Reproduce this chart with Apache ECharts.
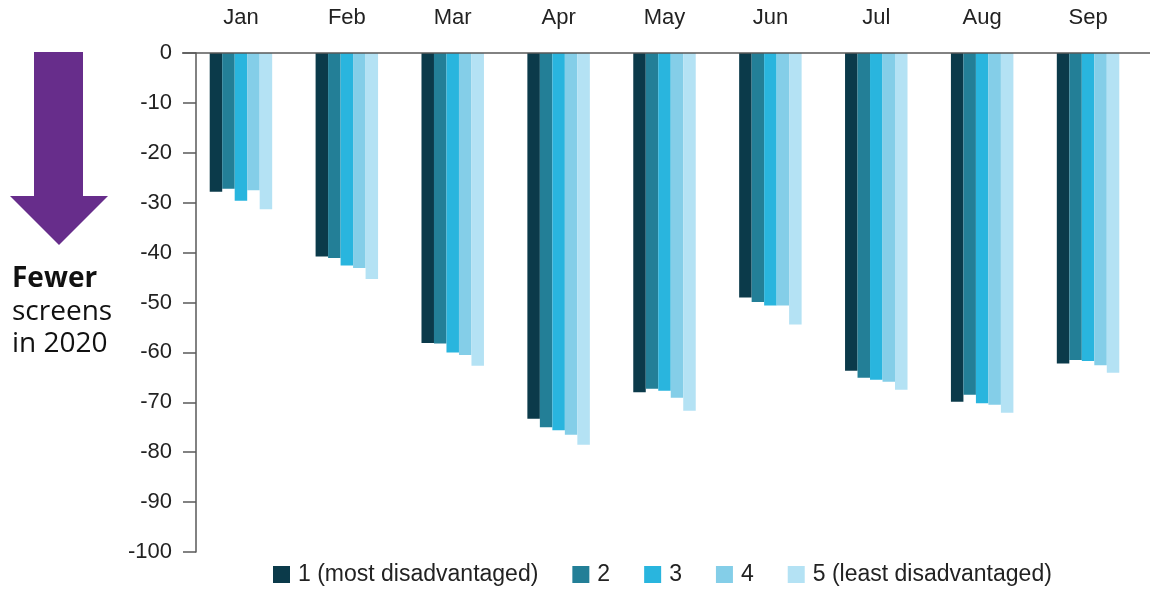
<!DOCTYPE html>
<html><head><meta charset="utf-8">
<script src="https://cdn.jsdelivr.net/npm/echarts@6/dist/echarts.min.js"></script>
<style>html,body{margin:0;padding:0;background:#fff}#c{width:1157px;height:592px}</style>
</head><body><div id="c"></div>
<script>
var categories = ['Jan','Feb','Mar','Apr','May','Jun','Jul','Aug','Sep'];
var seriesNames = ['1 (most disadvantaged)','2','3','4','5 (least disadvantaged)'];
var q1 = [-27.8,-40.8,-58.1,-73.3,-68.0,-49.0,-63.7,-69.9,-62.2];
var q2 = [-27.2,-41.1,-58.2,-75.0,-67.3,-49.9,-65.1,-68.5,-61.5];
var q3 = [-29.6,-42.6,-60.0,-75.6,-67.7,-50.6,-65.5,-70.2,-61.7];
var q4 = [-27.5,-43.1,-60.5,-76.5,-69.1,-50.6,-65.9,-70.5,-62.6];
var q5 = [-31.3,-45.3,-62.7,-78.5,-71.7,-54.4,-67.5,-72.1,-64.1];
var yTicks = {min:-100, max:0, interval:10};
var colors = ['#0b3a4a','#237f97','#29b5de','#84cee8','#b4e2f4'];

var data = [q1,q2,q3,q4,q5];
var chart = echarts.init(document.getElementById('c'), null, {renderer:'canvas'});
var font = '"Liberation Sans", Arial, sans-serif';
var series = data.map(function(d,i){
  return {name: seriesNames[i], type:'bar', data:d, barGap:'0%', barCategoryGap:'41%',
    itemStyle:{color:colors[i]}, animation:false};
});
chart.setOption({
  animation:false,
  color: colors,
  grid:{left:188, right:16, top:53, bottom:40, containLabel:false},
  xAxis:{type:'category', data:categories, position:'top',
    axisLine:{show:false}, axisTick:{show:false},
    axisLabel:{color:'#222', fontSize:22, fontFamily:font, margin:24}},
  yAxis:{type:'value', min:yTicks.min, max:yTicks.max, interval:yTicks.interval, offset:-8,
    axisLine:{show:true, lineStyle:{color:'#595959', width:1.5}},
    axisTick:{show:true, length:13, lineStyle:{color:'#595959', width:1.5}},
    splitLine:{show:false},
    axisLabel:{color:'#222', fontSize:22, fontFamily:font, margin:24}},
  legend:{bottom:1, left:268, itemWidth:17, itemHeight:17, itemGap:34,
    icon:'rect', textStyle:{color:'#222', fontSize:23, fontFamily:font, padding:[0,0,0,3]},
    data: seriesNames},
  series: series,
  graphic:[
    {type:'line', shape:{x1:182, y1:53, x2:1150, y2:53}, style:{stroke:'#595959', lineWidth:1.5}, z:10},
    {type:'polygon', shape:{points:[[34,52],[83,52],[83,196],[108,196],[59,245],[10,196],[34,196]]},
      style:{fill:'#672d8b'}},
    {type:'text', left:12, top:265, style:{text:'Fewer', font:'bold 28px "Open Sans", sans-serif', fill:'#111'}},
    {type:'text', left:12, top:298, style:{text:'screens', font:'28px "Open Sans", sans-serif', fill:'#111'}},
    {type:'text', left:12, top:330, style:{text:'in 2020', font:'28px "Open Sans", sans-serif', fill:'#111'}}
  ]
});
</script></body></html>
